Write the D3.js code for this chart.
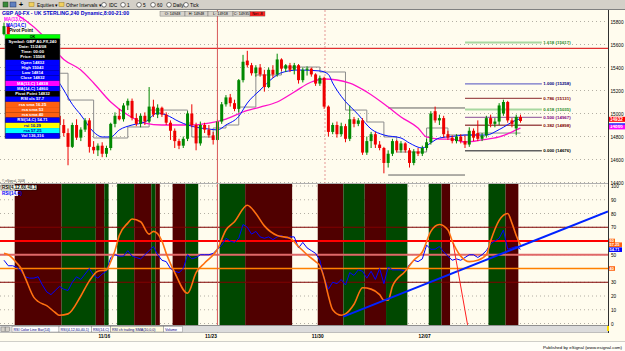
<!DOCTYPE html>
<html><head><meta charset="utf-8">
<script src="https://cdn.jsdelivr.net/npm/d3@7"></script>
<style>
body{margin:0;background:#fffcee;}
svg{display:block;font-family:"Liberation Sans",Arial,sans-serif;}
</style>
</head><body>
<svg id="c" width="625" height="351"></svg>
<script>
// ---------------- DATA ----------------
const opens = [15690,15760,15660,15560,15500,15450,15480,15370,15330,15230,15260,15120,15060,14980,14900,14830,14710,14900,14790,14860,
14940,14710,14680,14720,14650,14700,14910,14980,14950,15070,15110,14960,14910,14980,14930,15060,14990,15050,14990,14920,
14850,14760,14720,14780,15000,14900,14740,14900,14860,14810,14770,14930,15080,15140,15090,15040,15290,15460,15420,15350,
15400,15340,15230,15380,15340,15470,15390,15420,15380,15420,15290,15380,15390,15340,15260,15310,15060,14840,14900,14820,
14890,14780,14950,14910,14940,14660,14760,14820,14730,14700,14570,14650,14760,14680,14740,14680,14570,14670,14650,14700,
14750,15020,14940,14960,14820,14790,14760,14800,14760,14730,14850,14830,14780,14810,14960,14910,14930,15000,15100,14940,
14870,14970];
const highs = [15790,15780,15680,15600,15540,15500,15490,15420,15340,15290,15270,15160,15090,15000,14950,14870,14920,14950,14880,14960,
14960,14760,14740,14750,14720,14920,15010,15040,15090,15130,15130,15000,15000,15010,15230,15120,15080,15060,15010,14940,
14870,14780,14800,15020,15080,14920,14930,14920,14900,14840,14950,15100,15160,15170,15120,15300,15510,15545,15440,15420,
15430,15380,15400,15420,15520,15480,15430,15440,15440,15430,15400,15410,15400,15350,15330,15320,15070,14920,14930,14920,
14910,15070,14970,14960,14960,14800,14840,14840,14760,14710,14680,14780,14770,14760,14750,14700,14690,14700,14720,14780,
15020,15060,14990,14980,14850,14810,14820,14820,14810,14880,14870,14940,14830,14980,14990,14960,15090,15120,15110,14960,
14990,14990];
const lows = [15680,15640,15540,15470,15420,15400,15350,15300,15200,15190,15100,15030,14950,14880,14800,14550,14700,14770,14760,14840,
14660,14650,14630,14620,14620,14680,14880,14940,14930,15030,14940,14890,14880,14900,14920,14970,14960,14970,14900,14770,
14700,14690,14700,14760,14880,14680,14720,14830,14790,14730,14760,14910,15060,15060,15020,15010,15270,15400,15330,15320,
15320,15190,15220,15310,15320,15370,15360,15360,15340,15260,15270,15330,15320,15240,15240,15040,14800,14820,14790,14800,
14750,14760,14880,14890,14640,14640,14700,14700,14680,14480,14530,14630,14660,14660,14660,14530,14550,14630,14630,14680,
14730,14920,14900,14790,14770,14740,14740,14740,14700,14710,14760,14760,14760,14790,14880,14880,14900,14980,14920,14880,
14810,14920];
const closes = [15760,15660,15560,15500,15450,15480,15370,15330,15230,15260,15120,15060,14980,14900,14830,14710,14900,14790,14860,14940,
14710,14680,14720,14650,14700,14910,14980,14950,15070,15110,14960,14910,14980,14930,15060,14990,15050,14990,14920,14850,
14760,14720,14780,15000,14900,14740,14900,14860,14810,14770,14930,15080,15140,15090,15040,15290,15450,15420,15350,15400,
15340,15230,15380,15340,15470,15390,15420,15380,15420,15290,15380,15390,15340,15260,15310,15060,14840,14900,14820,14890,
14780,14950,14910,14940,14660,14760,14820,14730,14700,14570,14650,14760,14680,14740,14680,14570,14670,14650,14700,14750,
15000,14940,14960,14820,14790,14760,14800,14760,14730,14850,14790,14780,14810,14960,14910,14930,15070,15100,14940,14910,
14970,14935];

const maFastIdx = [13,14,16,18,21,23,25,27,30,33,36,38,41,43,46,48,50,52,55,57,60,63,65,69,74,76,77,79,83,86,89,93,95,98,100,102,105,108,113,116,120,121];
const maFastVal = [15265,15204,15080,14987,14839,14796,14796,14857,14900,14925,15004,14987,14930,14900,14874,14865,14857,14900,14975,15091,15204,15309,15355,15378,15370,15340,15265,15150,14990,14865,14813,14787,14743,14700,14745,14787,14800,14813,14813,14860,14943,14955];
const maSlowIdx = [3,5,9,14,18,21,25,29,33,37,41,44,48,52,56,60,64,68,72,75,81,85,90,93,97,99,102,105,108,112,116,120,121];
const maSlowVal = [15860,15810,15683,15470,15378,15265,15100,14987,14917,14900,14900,14900,14917,14952,15013,15056,15100,15187,15274,15300,15265,15187,15056,14970,14874,14796,14778,14778,14752,14770,14796,14857,14874];

const pivotIdx = [12,15,21,29,34,43,44,49,52,55,59,65,74,80,85,89,92,99,104,111,121];
const pivotVal = [15350,15117,14787,14883,15030,14917,14796,14874,14900,15056,15335,15404,15361,15030,14926,14796,14665,14874,14813,14830,14830];

const levelIdx = [90,108];
const levelVal = [15048,14465];
const resistance = 15567;

const fibRatio = ["1.618","1.000","0.786","0.618","0.500","0.382","0.000"];
const fibPrice = [15617,15258,15131,15035,14967,14898,14676];
const fibIdx = [108,126];

const rsi14 = [46,42,42,41,38,34,33,33,34,28, 23,21,24,27,25,24,30,34,32,36,
40,35,33,36,38,48,50,49,49,53, 49,48,47,50,53,56,50,46,45,40,
38,37,40,50,47,48,50,50,50,51, 54,57,62,60,59,62,72,70,65,67,
63,62,63,61,63,64,62,63,63,55, 59,55,53,51,46,33,25,30,29,32,
28,37,35,39,38,33,38,32,40,29, 41,39,39,39,38,43,46,45,47,57,
54,54,56,52,49,46,47,46,48,50, 50,48,50,53,58,60,62,68,54,55,
56,54];
const rsiSmoothIdx = [0,1,3,4,5,7,8,10,12,13,15,18,20,22,24,25,26,27,29,30,32,34,35,37,38,40,43,45,47,50,52,54,57,59,61,64,67,69,71,73,74,75,76,77,79,80,82,84,86,88,89,90,91,94,96,98,100,102,104,105,107,109,111,113,114,116,118,119,120,121];
const rsiSmoothVal = [51,50,44,40,33,19,16,13,8,6,7,20,31,38,39,45,53,64,73,76,74,65,67,60,51,37,22,37,44,54,68,74,86,80,71,64,62,56,50,45,42,33,20,10,6,7,14,26,25,21,17,17,27,38,46,52,67,72,68,60,49,45,46,50,60,75,80,73,64,57];

const trendA = [79.5,5], trendB = [141.5,81.5];
const redA = [105.2,58.5], redB = [108.6,-1];

const bandStart = [2.5,13.5,21.5,23.5,26.5,30.5,34.5,35.5,39.5,42.5,50.5,56.5,73.5,79.5,84.5,89.5,99.5,102.5,113.5,117.5];
const bandEnd   = [13.5,21.5,23.5,24.5,30.5,34.5,35.5,36.5,42.5,45.5,56.5,67.5,79.5,84.5,89.5,94.5,102.5,104.5,117.5,120.5];
const bandType  = ["r","g","r","g","g","r","g","r","r","g","g","r","r","g","r","g","g","r","g","r"];

const rsiLevels = [70,60,50,40,30];
const rsiLevelColor = ["#800000","#ff0000","#e06868","#ff8000","#800000"];
const rsiLevelWidth = [1,2,2,1.5,1];

const priceTicks = [14400,14600,14800,15000,15200,15400,15600,15800];
const rsiTicks = [0,10,20,30,40,50,60,70,80,90,100];
const rsiBoxedTicks = [60,40];
const dateTickIdx = [22,47,72,97];
const dateLabels = ["11/16","11/23","11/30","12/07"];

const legendRows = ["Symbol: GBP A0-FX,240","Date: 11/24/08","Time: 00:00","Price: 15508","Open 14832","High 15043","Low 14814","Close 14832","MA(13,C) 14838","MA(14,C) 14860","Pivot Point 14832","RSI cls 57.7","rsa sma 16.25","rsa sma 53","rsa sma 40","RSI(14,C) 54.71","rsi 10.29","rsa 57.25","Vol 136,316"];
const legendBg = ["#000","#000","#000","#000","#0000ff","#0000ff","#0000ff","#0000ff","#ff00ff","#0000ff","#000","#0000ff","#ff6010","#ff6010","#ff6010","#0000ff","#ffff00","#00ffff","#0000ff"];

const quoteBoxes = ["O: 14948","H: 14948","L: 14918","C: 14935","Net -8"];
const tabs = ["RSI Color Line Bar(14)","RSI(4,12,60,40,1)","RSI(14,C)","RSI ch trailing SMA(10,0,0)","Volume"];
const toolbarItems = ["Equities ▾","Other Intervals ▾","IDC","1","5","60","Daily","Tick"];

// ---------------- LAYOUT ----------------
const svg = d3.select("#c");
const CREAM = "#fffcee";
const x = d3.scaleLinear().domain([0,141.5]).range([4,608]);
const yP = d3.scaleLinear().domain([14400,15800]).range([182.5,21.5]);
const yR = d3.scaleLinear().domain([0,100]).range([323.5,186]);
const P_TOP=10, P_BOT=183.5, R_TOP=184, R_BOT=325, RIGHT=608;

svg.append("rect").attr("width",625).attr("height",351).attr("fill",CREAM);

const defs = svg.append("defs");
defs.append("clipPath").attr("id","cp").append("rect").attr("x",0).attr("y",P_TOP).attr("width",RIGHT).attr("height",P_BOT-P_TOP);
defs.append("clipPath").attr("id","cr").append("rect").attr("x",0).attr("y",R_TOP).attr("width",RIGHT).attr("height",R_BOT-R_TOP);

// ---------- toolbar ----------
const tb = svg.append("g");
tb.append("rect").attr("width",625).attr("height",9.5).attr("fill","#d4d0c8");
tb.append("line").attr("x1",0).attr("x2",625).attr("y1",9.5).attr("y2",9.5).attr("stroke","#808080");
tb.append("rect").attr("x",3).attr("y",2).attr("width",5).attr("height",5).attr("fill","#3a8a3a").attr("stroke","#204020").attr("stroke-width",0.5);
tb.append("rect").attr("x",10).attr("y",2).attr("width",6).attr("height",5).attr("fill","#6080c0").attr("stroke","#203060").attr("stroke-width",0.5);
tb.append("text").attr("x",19).attr("y",7).attr("font-size",7).attr("font-weight","bold").text("+");
[29,59].forEach(fx=>tb.append("rect").attr("x",fx).attr("y",2.5).attr("width",5).attr("height",4).attr("fill","#f0d060").attr("stroke","#a08020").attr("stroke-width",0.5));
const tbText = [[37,0],[66,1],[109,2],[127,3],[143,4],[157,5],[173,6],[190,7]];
tbText.forEach(([tx,k])=>tb.append("text").attr("x",tx).attr("y",6.6).attr("font-size",4.8).attr("fill","#000").text(toolbarItems[k]));
[104,123,139,153,169,186].forEach(cx=>tb.append("circle").attr("cx",cx).attr("cy",4.8).attr("r",2.3).attr("fill","#fff").attr("stroke","#000").attr("stroke-width",0.5));

// ---------- grids ----------
const grid = svg.append("g");
priceTicks.forEach(v=>grid.append("line").attr("x1",0).attr("x2",RIGHT).attr("y1",yP(v)).attr("y2",yP(v))
  .attr("stroke","#a09a90").attr("stroke-width",0.8).attr("stroke-dasharray","1,3"));
rsiTicks.forEach(v=>grid.append("line").attr("x1",0).attr("x2",RIGHT).attr("y1",yR(v)).attr("y2",yR(v))
  .attr("stroke","#a09a90").attr("stroke-width",0.8).attr("stroke-dasharray","1,3"));

// ---------- RSI bands ----------
const rg = svg.append("g").attr("clip-path","url(#cr)");
rg.selectAll("rect.band").data(bandStart).enter().append("rect")
  .attr("x",(d)=>x(d)).attr("width",(d,i)=>x(bandEnd[i])-x(d))
  .attr("y",R_TOP).attr("height",R_BOT-R_TOP)
  .attr("fill",(d,i)=>bandType[i]==="r"?"#500000":"#004800");

rsiLevels.forEach((v,i)=>rg.append("line").attr("x1",0).attr("x2",RIGHT).attr("y1",yR(v)).attr("y2",yR(v))
  .attr("stroke",rsiLevelColor[i]).attr("stroke-width",rsiLevelWidth[i]));

rg.append("path").datum(rsi14).attr("fill","none").attr("stroke","#0000ff").attr("stroke-width",1)
  .attr("d",d3.line().x((d,i)=>x(i)).y(d=>yR(d)));
rg.append("path").datum(rsiSmoothIdx).attr("fill","none").attr("stroke","#ff7010").attr("stroke-width",1.6)
  .attr("d",d3.line().curve(d3.curveMonotoneX).x(d=>x(d)).y((d,i)=>yR(rsiSmoothVal[i])));
rg.append("line").attr("x1",x(trendA[0])).attr("y1",yR(trendA[1])).attr("x2",x(trendB[0])).attr("y2",yR(trendB[1]))
  .attr("stroke","#0022ff").attr("stroke-width",2);
rg.append("line").attr("x1",x(redA[0])).attr("y1",yR(redA[1])).attr("x2",x(redB[0])).attr("y2",yR(redB[1]))
  .attr("stroke","#ff2020").attr("stroke-width",1);

// ---------- price panel ----------
const pg = svg.append("g").attr("clip-path","url(#cp)");
pg.append("line").attr("x1",0).attr("x2",RIGHT).attr("y1",yP(resistance)).attr("y2",yP(resistance)).attr("stroke","#e03030").attr("stroke-width",1.2);
pg.append("line").attr("x1",x(75.2)).attr("x2",x(75.2)).attr("y1",P_TOP).attr("y2",P_BOT).attr("stroke","#e08080").attr("stroke-width",0.8).attr("stroke-dasharray","2,2");

pg.append("path").datum(pivotIdx).attr("fill","none").attr("stroke","#8c8c8c").attr("stroke-width",1)
  .attr("d",d3.line().curve(d3.curveStepAfter).x(d=>x(d)).y((d,i)=>yP(pivotVal[i])));
levelVal.forEach(v=>pg.append("line").attr("x1",x(levelIdx[0])).attr("x2",x(levelIdx[1])).attr("y1",yP(v)).attr("y2",yP(v)).attr("stroke","#606060").attr("stroke-width",1));

const fibLine = ["#a8d8a0","#7070c8","#a05050","#a8d8a0","#a070a8","#a05050","#606060"];
const fibText = ["#2a8a2a","#000080","#800000","#2a8a2a","#800080","#800000","#000000"];
const fibW = [2,1.3,1.3,2,1.3,1.3,1.3];
fibPrice.forEach((p,i)=>{
  pg.append("line").attr("x1",x(fibIdx[0])).attr("x2",x(fibIdx[1])).attr("y1",yP(p)).attr("y2",yP(p)).attr("stroke",fibLine[i]).attr("stroke-width",fibW[i]);
  pg.append("text").attr("x",x(fibIdx[1])+1.5).attr("y",yP(p)+1.5).attr("font-size",4.4).attr("font-weight","bold").attr("fill",fibText[i])
    .text(fibRatio[i]+" ("+p+")");
});

pg.append("path").datum(maSlowIdx).attr("fill","none").attr("stroke","#ff10c8").attr("stroke-width",1.3)
  .attr("d",d3.line().curve(d3.curveMonotoneX).x(d=>x(d)).y((d,i)=>yP(maSlowVal[i])));
pg.append("path").datum(maFastIdx).attr("fill","none").attr("stroke","#0010ff").attr("stroke-width",1)
  .attr("d",d3.line().curve(d3.curveMonotoneX).x(d=>x(d)).y((d,i)=>yP(maFastVal[i])));

const cg = pg.append("g");
opens.forEach((o,i)=>{
  const c = closes[i], up = c>=o, col = up?"#008800":"#ee0000";
  cg.append("line").attr("x1",x(i)).attr("x2",x(i)).attr("y1",yP(highs[i])).attr("y2",yP(lows[i])).attr("stroke",col).attr("stroke-width",1);
  const top = yP(Math.max(o,c)), bot = yP(Math.min(o,c));
  cg.append("rect").attr("x",x(i)-1.5).attr("width",3).attr("y",top).attr("height",Math.max(1,bot-top)).attr("fill",col);
});

svg.append("line").attr("x1",x(50)).attr("x2",x(50)).attr("y1",P_TOP).attr("y2",333).attr("stroke","#d85858").attr("stroke-width",1);
svg.append("line").attr("x1",0).attr("x2",RIGHT).attr("y1",P_BOT).attr("y2",P_BOT).attr("stroke","#b0b0b0").attr("stroke-width",1);

// ---------- title and top texts ----------
svg.append("text").attr("x",2).attr("y",14.8).attr("font-size",5.2).attr("font-weight","bold").attr("fill","#0000c8")
  .text("GBP A0-FX - UK STERLING,240 Dynamic,8:00-21:00");
svg.append("text").attr("x",4).attr("y",21).attr("font-size",4.6).attr("font-weight","bold").attr("fill","#ff00ff").text("MA(13,C)");
svg.append("text").attr("x",6).attr("y",26.5).attr("font-size",4.6).attr("font-weight","bold").attr("fill","#0000ff").text("MA(14,C)");
svg.append("text").attr("x",9).attr("y",32).attr("font-size",4.6).attr("font-weight","bold").attr("fill","#000").text("Pivot Point");

const qbX = [160,185,208,233,250], qbW = [25,23,25,17,15];
quoteBoxes.forEach((t,i)=>{
  svg.append("rect").attr("x",qbX[i]).attr("y",11.5).attr("width",qbW[i]).attr("height",4.6)
    .attr("fill",i===4?"#ff2020":"#d8d4cc").attr("stroke","#606060").attr("stroke-width",0.4);
  svg.append("text").attr("x",qbX[i]+qbW[i]/2).attr("y",15).attr("text-anchor","middle").attr("font-size",3.8).attr("fill","#000").text(t);
});

// ---------- legend (data window) ----------
const lg = svg.append("g");
lg.append("rect").attr("x",5).attr("y",34.5).attr("width",55).attr("height",104).attr("fill","#000").attr("stroke","#909090").attr("stroke-width",0.8);
lg.append("rect").attr("x",5).attr("y",34.5).attr("width",55).attr("height",4.2).attr("fill","#00ff00");
lg.append("text").attr("x",32.5).attr("y",37.9).attr("text-anchor","middle").attr("font-size",3.8).attr("font-weight","bold").text("OK");
const rowH = 5.25, row0 = 38.8;
legendRows.forEach((t,i)=>{
  lg.append("rect").attr("x",5.5).attr("y",row0+i*rowH).attr("width",54).attr("height",rowH).attr("fill",legendBg[i]);
  lg.append("text").attr("x",32.5).attr("y",row0+i*rowH+3.8).attr("text-anchor","middle").attr("font-size",4.2).attr("font-weight","bold")
    .attr("fill",(legendBg[i]==="#ffff00"||legendBg[i]==="#00ffff")?"#0000a0":"#ffffff").text(t);
});

// ---------- RSI panel labels ----------
svg.append("text").attr("x",2).attr("y",182.3).attr("font-size",3.2).attr("fill","#404040").text("© eSignal, 2008");
svg.append("rect").attr("x",1).attr("y",185).attr("width",36).attr("height",5).attr("fill",CREAM).attr("stroke","#000").attr("stroke-width",0.4);
svg.append("text").attr("x",2).attr("y",189.2).attr("font-size",4.5).attr("font-weight","bold").attr("fill","#000").text("RSI(4,12,60,40,1)");
svg.append("rect").attr("x",1).attr("y",191).attr("width",17).attr("height",5).attr("fill",CREAM);
svg.append("text").attr("x",2).attr("y",195.3).attr("font-size",4.5).attr("font-weight","bold").attr("fill","#0000ff").text("RSI(14,C)");

// ---------- axes ----------
svg.append("line").attr("x1",RIGHT+0.5).attr("x2",RIGHT+0.5).attr("y1",P_TOP).attr("y2",333).attr("stroke","#303030").attr("stroke-width",1);
const ax1 = svg.append("g").attr("transform",`translate(${RIGHT+0.5},0)`)
  .call(d3.axisRight(yP).tickValues(priceTicks).tickSize(0).tickPadding(2).tickFormat(d3.format("d")));
const ax2 = svg.append("g").attr("transform",`translate(${RIGHT+0.5},0)`)
  .call(d3.axisRight(yR).tickValues(rsiTicks.filter(t=>!rsiBoxedTicks.includes(t))).tickSize(0).tickPadding(2.5));
[ax1,ax2].forEach(a=>{a.select(".domain").remove(); a.selectAll("text").attr("font-size",4.7).attr("font-family","Liberation Sans, Arial").attr("fill","#000");});

const markVals = [14932,14866], markCol = ["#ff0000","#ff00ff"];
markVals.forEach((v,i)=>{
  svg.append("rect").attr("x",RIGHT+1).attr("y",yP(v)-4.5).attr("width",16).attr("height",5).attr("fill",markCol[i]);
  svg.append("text").attr("x",RIGHT+2).attr("y",yP(v)-0.7).attr("font-size",4.6).attr("font-weight","bold").attr("fill","#fff").text(v);
});
svg.append("rect").attr("x",RIGHT+1).attr("y",yP(14909)-0.6).attr("width",16).attr("height",1.3).attr("fill","#0000ff");
// boxed RSI values on the axis (60 and 40 levels, current readings)
const rMarkVals = [60,57.3,53.7,40], rMarkTxt = ["60","57.25","54.71","40"], rMarkCol = ["#ff6010","#ff6010","#0000ff","#ff6010"], rMarkW=[6,13,13,6];
rMarkVals.forEach((v,i)=>{
  svg.append("rect").attr("x",RIGHT+1).attr("y",yR(v)-2.3).attr("width",rMarkW[i]).attr("height",4.6).attr("fill",rMarkCol[i]);
  svg.append("text").attr("x",RIGHT+1.5).attr("y",yR(v)+1.4).attr("font-size",4).attr("font-weight","bold").attr("fill","#fff").text(rMarkTxt[i]);
});

// ---------- bottom: tabs, dates, status ----------
svg.append("line").attr("x1",0).attr("x2",RIGHT).attr("y1",R_BOT+0.5).attr("y2",R_BOT+0.5).attr("stroke","#909090");
svg.append("rect").attr("x",0).attr("y",326).attr("width",RIGHT).attr("height",6.5).attr("fill","#dcdcdc");
svg.append("line").attr("x1",0).attr("x2",RIGHT).attr("y1",332.5).attr("y2",332.5).attr("stroke","#a0a0a0").attr("stroke-width",0.6);
[1,5.5].forEach(bx=>svg.append("rect").attr("x",bx).attr("y",327).attr("width",4).attr("height",4.5).attr("fill","#d4d0c8").attr("stroke","#606060").attr("stroke-width",0.4));
const tabX=[12,59,91.5,110.5,163.5], tabW=[47,32.5,19,53,19];
tabs.forEach((t,i)=>{
  svg.append("rect").attr("x",tabX[i]).attr("y",326.5).attr("width",tabW[i]).attr("height",5.5).attr("fill",i===3?"#fffbe0":"#ffffff").attr("stroke","#707070").attr("stroke-width",0.4);
  svg.append("text").attr("x",tabX[i]+1.5).attr("y",330.6).attr("font-size",3.6).attr("fill","#000080").text(t);
});
svg.append("rect").attr("x",RIGHT-1).attr("y",326).attr("width",2).attr("height",5).attr("fill","#ffe000");

const dax = svg.append("g").attr("transform","translate(0,333)")
  .call(d3.axisBottom(x).tickValues(dateTickIdx).tickSize(0).tickPadding(2).tickFormat((d,i)=>dateLabels[i]));
dax.select(".domain").remove();
dax.selectAll("text").attr("font-size",4.8).attr("font-weight","bold").attr("font-family","Liberation Sans, Arial").attr("text-anchor","start").attr("dy","0.55em").attr("fill","#000");

svg.append("line").attr("x1",0).attr("x2",625).attr("y1",341.5).attr("y2",341.5).attr("stroke","#b0b0b0").attr("stroke-width",0.6);
svg.append("rect").attr("x",0).attr("y",342).attr("width",625).attr("height",9).attr("fill","#fffef8");
svg.append("text").attr("x",622).attr("y",348.5).attr("text-anchor","end").attr("font-size",4.4).attr("fill","#000").text("Published by eSignal (www.esignal.com)");
</script>
</body></html>
